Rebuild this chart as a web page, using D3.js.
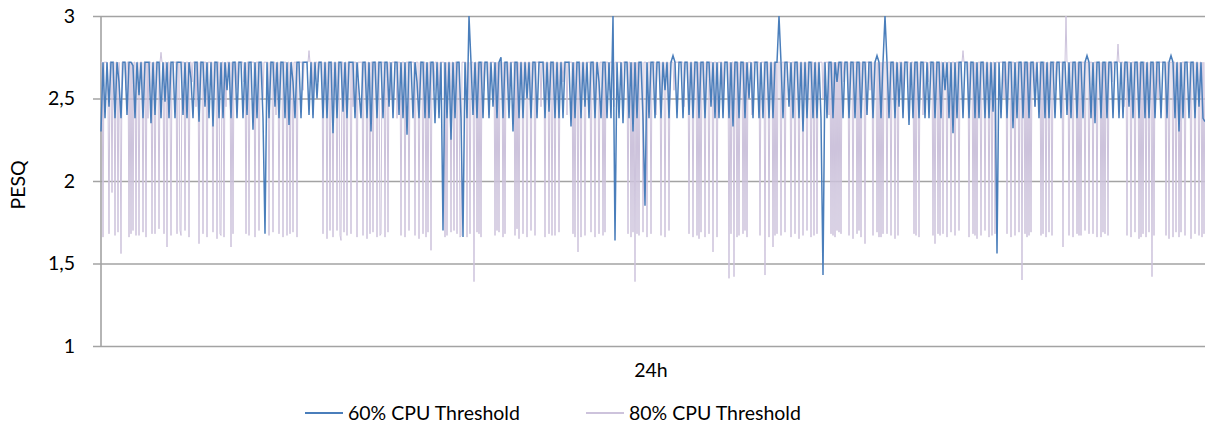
<!DOCTYPE html>
<html>
<head>
<meta charset="utf-8">
<script src="https://cdn.jsdelivr.net/npm/d3@7"></script>
<style>
  html, body { margin: 0; padding: 0; background: #fff; }
  svg { display: block; }
  text { font-family: Lato, "Open Sans", sans-serif; fill: #000; }
</style>
</head>
<body>
<svg id="chart" width="1205" height="428"></svg>
<script>
// PESQ over 24h at the 60% CPU threshold, ten samples per row
const cpu60 = [
  2.30,2.72,2.38,2.72,2.45,2.72,2.72,2.38,2.72,2.60,
  2.38,2.72,2.72,2.40,2.72,2.72,2.70,2.38,2.72,2.52,
  2.72,2.38,2.72,2.72,2.72,2.35,2.72,2.40,2.72,2.72,
  2.38,2.72,2.48,2.72,2.38,2.72,2.72,2.38,2.72,2.72,
  2.72,2.40,2.72,2.38,2.72,2.62,2.38,2.72,2.72,2.36,
  2.72,2.72,2.45,2.72,2.38,2.72,2.33,2.72,2.72,2.38,
  2.72,2.38,2.72,2.55,2.72,2.38,2.72,2.72,2.38,2.72,
  2.72,2.38,2.72,2.40,2.72,2.72,2.31,2.72,2.38,2.72,
  2.72,2.38,1.68,2.72,2.38,2.72,2.72,2.45,2.72,2.38,
  2.72,2.72,2.38,2.72,2.34,2.72,2.60,2.38,2.72,2.72,
  2.38,2.72,2.72,2.72,2.40,2.72,2.38,2.72,2.50,2.72,
  2.72,2.38,2.72,2.38,2.72,2.72,2.29,2.72,2.38,2.72,
  2.72,2.42,2.72,2.38,2.72,2.72,2.72,2.38,2.72,2.55,
  2.38,2.72,2.72,2.38,2.72,2.30,2.72,2.72,2.38,2.72,
  2.72,2.38,2.72,2.72,2.45,2.72,2.38,2.72,2.72,2.40,
  2.72,2.38,2.72,2.28,2.72,2.72,2.38,2.72,2.60,2.38,
  2.72,2.72,2.38,2.72,2.38,2.72,2.72,2.35,2.72,2.38,
  2.72,1.70,2.72,2.38,2.72,2.25,2.72,2.38,2.72,2.72,
  2.38,1.66,2.72,2.38,3.00,2.72,2.40,2.72,2.38,2.72,
  2.72,2.38,2.72,2.72,2.38,2.72,2.45,2.72,2.38,2.72,
  2.75,2.38,2.72,2.72,2.38,2.72,2.30,2.72,2.72,2.38,
  2.72,2.38,2.72,2.50,2.72,2.38,2.72,2.72,2.38,2.72,
  2.72,2.72,2.38,2.72,2.42,2.72,2.72,2.38,2.72,2.38,
  2.72,2.38,2.72,2.72,2.72,2.33,2.72,2.38,2.72,2.72,
  2.38,2.72,2.45,2.72,2.38,2.72,2.72,2.38,2.72,2.60,
  2.38,2.72,2.72,2.38,2.72,2.38,3.00,1.64,2.72,2.38,
  2.72,2.35,2.72,2.72,2.38,2.72,2.30,2.72,2.38,2.72,
  2.72,2.38,1.85,2.72,2.38,2.72,2.72,2.38,2.72,2.72,
  2.38,2.72,2.55,2.72,2.38,2.72,2.76,2.72,2.38,2.72,
  2.72,2.38,2.72,2.72,2.40,2.72,2.38,2.72,2.72,2.38,
  2.72,2.72,2.38,2.72,2.72,2.45,2.72,2.38,2.72,2.38,
  2.72,2.38,2.72,2.72,2.38,2.72,2.33,2.72,2.72,2.38,
  2.72,2.72,2.38,2.72,2.50,2.72,2.38,2.72,2.72,2.38,
  2.72,2.38,2.72,2.72,2.38,2.72,2.38,2.72,2.72,3.00,
  2.72,2.38,2.72,2.72,2.45,2.72,2.38,2.72,2.72,2.38,
  2.72,2.30,2.72,2.38,2.72,2.72,2.38,2.72,2.38,2.72,
  2.38,1.43,2.72,2.38,2.72,2.72,2.38,2.72,2.60,2.72,
  2.72,2.38,2.72,2.72,2.38,2.72,2.72,2.38,2.72,2.72,
  2.38,2.72,2.72,2.40,2.72,2.72,2.38,2.72,2.76,2.72,
  2.38,2.72,3.00,2.72,2.38,2.72,2.72,2.38,2.72,2.45,
  2.72,2.38,2.72,2.72,2.34,2.72,2.38,2.72,2.72,2.38,
  2.72,2.72,2.38,2.72,2.38,2.72,2.72,2.38,2.72,2.72,
  2.38,2.72,2.55,2.72,2.38,2.72,2.29,2.72,2.38,2.72,
  2.72,2.38,2.72,2.72,2.38,2.72,2.72,2.38,2.72,2.38,
  2.72,2.72,2.38,2.72,2.38,2.72,2.42,2.72,1.56,2.72,
  2.38,2.72,2.72,2.38,2.72,2.72,2.32,2.72,2.38,2.72,
  2.72,2.38,2.72,2.72,2.38,2.72,2.72,2.45,2.72,2.38,
  2.72,2.72,2.38,2.72,2.38,2.72,2.72,2.38,2.72,2.72,
  2.38,2.72,2.72,2.40,2.72,2.38,2.72,2.72,2.38,2.72,
  2.72,2.38,2.72,2.76,2.72,2.38,2.72,2.35,2.72,2.72,
  2.38,2.72,2.72,2.38,2.72,2.72,2.38,2.72,2.72,2.38,
  2.72,2.38,2.72,2.72,2.45,2.72,2.38,2.72,2.72,2.38,
  2.72,2.72,2.38,2.72,2.38,2.72,2.72,2.38,2.72,2.72,
  2.38,2.72,2.72,2.38,2.72,2.76,2.72,2.38,2.72,2.30,
  2.72,2.38,2.72,2.72,2.38,2.72,2.72,2.38,2.72,2.45,
  2.72,2.38,2.36
];

// PESQ over 24h at the 80% CPU threshold, twenty samples per row
const cpu80 = [
  2.72,2.72,1.66,2.72,2.72,2.72,2.72,2.50,1.68,2.72,2.72,1.93,2.72,2.72,1.67,2.72,2.72,1.69,2.72,2.40,
  1.56,2.72,2.72,2.72,2.72,2.55,2.72,2.72,1.66,2.72,1.68,2.72,1.70,2.72,2.72,1.67,2.72,2.72,1.67,2.72,
  2.72,2.72,1.69,2.72,2.72,1.66,2.72,2.38,2.72,2.72,2.72,1.68,2.72,2.72,1.68,2.72,2.72,2.72,1.71,2.72,
  2.78,2.72,2.72,1.68,2.72,2.72,1.60,2.72,2.72,2.50,1.67,2.72,2.72,2.72,2.72,2.72,1.68,2.72,2.72,1.70,
  1.67,2.72,2.72,2.72,1.70,2.72,2.72,2.72,1.66,2.72,2.72,2.60,2.72,2.72,2.72,2.45,2.72,2.72,1.62,2.72,
  2.72,2.72,1.68,2.72,2.72,2.72,1.66,2.72,2.72,2.72,2.72,2.72,1.69,2.72,2.72,2.72,1.65,2.72,2.72,1.68,
  1.67,2.72,2.72,1.66,2.72,2.45,2.72,2.72,2.72,2.72,1.60,2.72,1.68,2.72,2.72,2.72,2.55,2.72,2.72,2.72,
  2.72,2.72,2.72,2.60,2.72,1.68,2.72,2.72,1.67,2.72,2.72,2.72,2.72,2.72,1.66,2.72,2.72,2.72,1.70,2.72,
  2.72,2.72,2.50,2.72,2.72,2.72,2.72,2.72,1.67,2.72,2.72,2.72,1.69,2.72,2.72,2.40,2.72,2.72,1.68,2.72,
  2.72,2.72,1.66,2.72,2.72,2.72,1.67,2.72,2.72,1.68,2.72,2.72,1.69,2.72,2.72,2.72,1.66,2.72,2.72,2.72,
  2.72,2.72,2.55,2.72,2.72,2.72,2.72,2.72,2.79,2.72,2.72,2.72,2.40,2.72,2.72,2.72,2.72,2.60,2.72,2.72,
  2.72,2.72,1.68,2.72,2.72,2.72,1.65,2.72,2.72,1.70,2.72,2.72,1.66,2.72,2.72,2.72,1.70,2.72,2.72,1.67,
  1.64,2.72,2.72,1.69,2.72,2.72,1.67,2.72,2.72,2.72,1.68,2.72,2.45,2.72,2.72,2.72,1.66,2.72,2.72,2.72,
  2.72,2.72,1.67,2.72,2.72,2.72,1.65,2.72,2.72,1.68,2.72,2.72,1.69,2.72,2.72,2.72,1.66,2.72,2.72,1.67,
  1.68,2.72,2.72,2.72,1.66,2.72,2.72,1.69,2.72,2.72,2.50,2.72,2.72,2.72,2.72,2.72,2.38,2.72,2.72,2.72,
  1.67,2.72,2.72,2.72,1.66,2.72,2.72,2.72,1.70,2.72,2.72,2.72,2.72,2.72,1.67,2.72,2.72,2.72,1.65,2.72,
  2.72,2.72,1.68,2.72,2.72,1.66,2.72,1.69,2.72,2.72,1.58,2.72,2.72,2.55,2.72,2.72,2.72,2.72,2.45,2.72,
  2.72,2.72,2.72,2.72,1.66,2.72,1.67,2.72,2.72,2.72,1.69,2.72,2.72,1.70,2.72,2.72,1.68,2.72,2.72,1.66,
  1.67,2.72,2.72,2.72,2.72,2.72,1.66,2.72,2.72,1.68,2.72,2.72,2.72,1.39,2.72,2.72,1.69,2.72,1.68,2.72,
  1.66,2.72,2.72,2.55,2.72,2.72,2.72,2.72,2.40,2.72,2.72,2.72,2.72,2.72,1.67,2.72,1.70,2.72,1.69,2.72,
  2.72,2.72,1.66,2.72,1.68,2.72,2.72,2.72,2.50,2.72,2.72,2.72,2.72,2.72,1.67,2.72,1.71,2.72,1.65,2.72,
  2.72,2.72,1.68,2.72,2.72,2.72,1.66,2.72,2.72,2.72,1.70,2.72,2.72,2.72,1.67,2.72,2.72,2.72,2.72,2.72,
  2.45,2.72,2.72,2.72,1.66,2.72,2.72,2.72,1.68,2.72,2.72,1.67,2.72,2.72,1.67,2.72,2.72,2.72,1.69,2.72,
  2.72,2.72,2.60,2.72,2.72,2.72,2.40,2.72,2.72,2.72,2.72,2.72,1.68,2.72,1.66,2.72,2.72,1.57,2.72,2.72,
  1.66,2.72,2.72,2.72,1.67,2.72,2.72,2.72,2.72,2.72,1.69,2.72,2.72,2.72,1.66,2.72,2.72,2.72,1.68,2.72,
  2.72,2.72,1.67,2.72,1.69,2.72,2.72,2.72,2.55,2.72,2.72,2.72,2.72,2.45,2.72,2.72,2.72,2.72,2.72,2.72,
  2.72,2.50,2.72,2.72,2.72,2.72,2.72,1.68,2.72,2.72,1.66,2.72,1.69,2.72,1.39,2.72,1.68,2.72,1.67,2.72,
  2.72,2.72,1.69,2.72,2.72,2.72,1.66,2.72,2.72,2.72,1.68,2.72,2.72,2.72,2.72,2.40,2.72,2.72,2.72,2.72,
  1.67,2.72,2.72,2.72,1.66,2.72,2.72,2.72,1.70,2.72,2.72,2.72,2.72,2.55,2.72,2.72,2.72,2.72,2.72,2.72,
  2.72,2.72,2.72,2.45,2.72,2.72,2.72,2.72,1.68,2.72,2.72,2.72,1.66,2.72,2.72,2.72,1.67,2.72,1.65,2.72,
  1.69,2.72,2.72,2.72,1.66,2.72,2.72,2.72,1.68,2.72,2.72,2.72,1.57,2.72,2.72,2.72,1.66,2.72,2.72,2.72,
  2.72,2.72,2.50,2.72,2.72,2.72,2.72,2.72,1.41,2.72,1.68,2.72,2.72,1.42,2.72,2.72,1.66,2.72,1.67,2.72,
  2.72,2.72,1.68,2.72,1.70,2.72,1.66,2.72,2.72,2.72,2.72,2.40,2.72,2.72,2.72,2.72,2.72,2.72,2.72,1.67,
  2.72,2.72,2.72,2.72,1.43,2.72,2.72,2.72,1.66,2.72,2.72,2.72,1.60,2.72,1.67,2.72,1.68,2.72,2.72,2.72,
  1.67,2.72,2.72,2.72,1.69,2.72,2.72,2.72,2.72,2.72,1.66,2.72,2.72,2.72,1.68,2.72,2.72,2.72,1.65,2.72,
  2.72,2.72,1.67,2.72,2.72,2.72,1.70,2.72,2.72,2.72,1.66,2.72,2.72,1.67,2.72,2.72,1.68,2.72,2.72,2.72,
  2.72,2.72,2.50,2.72,2.72,2.72,2.72,2.72,2.40,2.72,1.68,2.72,1.67,2.72,1.66,2.72,1.70,2.72,1.69,2.72,
  1.68,2.72,2.72,2.60,2.72,2.72,2.72,2.72,1.67,2.72,2.72,2.72,1.65,2.72,2.72,2.72,1.68,2.72,1.70,2.72,
  1.66,2.72,2.72,2.72,1.62,2.72,2.72,2.72,2.72,2.55,2.72,2.72,1.67,2.72,2.72,2.72,1.69,2.72,1.66,2.72,
  1.66,2.72,1.68,2.72,2.72,2.72,1.68,2.72,2.72,2.72,1.67,2.72,2.72,2.72,1.65,2.72,2.72,1.67,2.72,2.72,
  2.72,2.72,2.45,2.72,2.72,2.72,2.72,2.72,2.72,2.50,2.72,2.72,2.72,1.68,2.72,1.67,2.72,2.72,1.66,2.72,
  2.72,2.72,2.40,2.72,2.72,2.72,2.72,2.60,2.72,2.72,2.72,2.72,1.67,2.72,1.62,2.72,2.72,1.68,2.72,1.67,
  2.72,2.72,1.68,2.72,2.72,2.72,1.66,2.72,2.72,2.72,1.69,2.72,2.72,2.72,1.67,2.72,2.72,2.72,1.70,2.72,
  2.72,2.72,2.79,2.72,2.72,2.72,2.72,2.72,1.66,2.72,2.72,2.72,1.68,2.72,1.67,2.72,1.65,2.72,2.72,2.72,
  1.67,2.72,2.72,2.72,1.70,2.72,2.72,2.72,1.66,2.72,2.72,1.67,2.72,2.72,1.68,2.72,2.72,2.72,2.72,2.72,
  2.72,2.72,2.72,2.50,2.72,2.72,1.68,2.72,2.72,2.72,1.66,2.72,2.72,2.72,1.67,2.72,2.72,2.72,1.69,2.72,
  2.72,1.40,2.72,2.72,1.68,2.72,1.66,2.72,1.67,2.72,1.69,2.72,2.72,2.72,2.45,2.72,2.72,2.72,2.72,2.72,
  1.67,2.72,1.68,2.72,2.72,1.66,2.72,2.72,1.69,2.72,2.72,1.67,2.72,2.72,2.72,2.55,2.72,2.72,2.72,2.72,
  2.72,2.72,1.60,2.72,2.72,3.00,2.72,2.72,1.67,2.72,2.72,2.72,1.66,2.72,2.72,2.72,1.68,2.72,1.67,2.72,
  1.67,2.72,2.72,2.72,1.70,2.72,2.72,2.72,1.68,2.72,2.72,2.72,1.68,2.72,2.72,2.72,1.66,2.72,2.72,2.72,
  1.66,2.72,1.69,2.72,1.68,2.72,2.72,1.67,2.72,2.72,2.72,2.60,2.72,2.72,2.72,2.72,2.72,2.83,2.72,2.72,
  2.72,2.72,2.72,2.45,2.72,2.72,1.67,2.72,2.72,2.72,1.66,2.72,2.72,2.72,1.69,2.72,2.72,2.72,1.65,2.72,
  1.66,2.72,1.68,2.72,2.72,1.66,2.72,2.72,1.69,2.72,2.72,1.42,2.72,1.67,2.72,2.72,2.72,2.50,2.72,2.72,
  2.72,2.72,2.72,2.72,2.72,1.67,2.72,2.72,1.65,2.72,2.72,2.72,1.66,2.72,2.72,1.69,2.72,2.72,1.66,2.72,
  1.69,2.72,2.72,2.72,1.67,2.72,2.72,2.72,2.72,2.72,1.65,2.72,2.72,2.72,1.68,2.72,2.72,2.72,1.67,2.72,
  2.72,1.66,2.72,1.68,2.72
];

const yTicks = [1, 1.5, 2, 2.5, 3];
const seriesNames = ["60% CPU Threshold", "80% CPU Threshold"];
const seriesColors = ["#4a7ebb", "#cdc3dc"];

const svg = d3.select("#chart");
const plotLeft = 101, plotRight = 1205, plotTop = 16, plotBottom = 346;

// each series spans the full 24h window
const x60 = d3.scaleLinear().domain([0, cpu60.length - 1]).range([plotLeft, plotRight]);
const x80 = d3.scaleLinear().domain([0, cpu80.length - 1]).range([plotLeft, plotRight]);
const y = d3.scaleLinear().domain([1, 3]).range([plotBottom, plotTop]);

// horizontal gridlines with short outside ticks and comma-decimal labels
const yAxis = d3.axisLeft(y)
  .tickValues(yTicks)
  .tickSizeInner(-(plotRight - plotLeft))
  .tickSizeOuter(0)
  .tickPadding(26)
  .tickFormat(d => String(d).replace(".", ","));

const gy = svg.append("g").attr("transform", `translate(${plotLeft},0)`).call(yAxis);
gy.select(".domain").remove();
gy.selectAll(".tick line")
  .attr("x1", -8)
  .attr("stroke", "#a3a3a3")
  .attr("stroke-width", 1.6);
gy.selectAll(".tick text")
  .attr("font-family", "Lato, 'Open Sans', sans-serif")
  .attr("font-size", 19.5)
  .attr("fill", "#000");

// vertical axis line
svg.append("line")
  .attr("x1", plotLeft).attr("x2", plotLeft)
  .attr("y1", plotTop).attr("y2", plotBottom)
  .attr("stroke", "#a3a3a3").attr("stroke-width", 1.6);

svg.append("path")
  .datum(cpu80)
  .attr("d", d3.line().x((d, i) => x80(i)).y(d => y(d)))
  .attr("fill", "none")
  .attr("stroke", seriesColors[1])
  .attr("stroke-width", 1);

svg.append("path")
  .datum(cpu60)
  .attr("d", d3.line().x((d, i) => x60(i)).y(d => y(d)))
  .attr("fill", "none")
  .attr("stroke", seriesColors[0])
  .attr("stroke-width", 1.5);

// axis titles
svg.append("text")
  .attr("transform", `translate(25,${(plotTop + plotBottom) / 2 + 4}) rotate(-90)`)
  .attr("text-anchor", "middle")
  .attr("font-size", 19.5)
  .text("PESQ");

svg.append("text")
  .attr("x", (plotLeft + plotRight) / 2 - 2)
  .attr("y", 377)
  .attr("text-anchor", "middle")
  .attr("font-size", 19.5)
  .text("24h");

// legend
const legendX = [305, 586];
const legend = svg.selectAll(".legend")
  .data(seriesNames)
  .join("g")
  .attr("class", "legend")
  .attr("transform", (d, i) => `translate(${legendX[i]},413)`);

legend.append("line")
  .attr("x1", 0).attr("x2", 38)
  .attr("stroke", (d, i) => seriesColors[i])
  .attr("stroke-width", 1.8);

legend.append("text")
  .attr("x", 43)
  .attr("y", 6.5)
  .attr("font-size", 19.5)
  .text(d => d);
</script>
</body>
</html>
